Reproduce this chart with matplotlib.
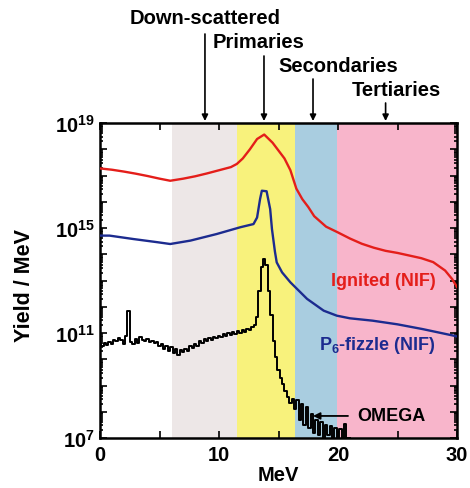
import matplotlib

matplotlib.use("Agg")

import numpy as np  # noqa: E402
import matplotlib.pyplot as plt  # noqa: E402
from matplotlib.ticker import FixedLocator, FuncFormatter, LogLocator, NullFormatter  # noqa: E402

plt.rcParams["font.family"] = ["Liberation Sans", "DejaVu Sans"]
plt.rcParams["font.weight"] = "bold"
plt.rcParams["mathtext.fontset"] = "custom"
plt.rcParams["mathtext.rm"] = "Liberation Sans:bold"
plt.rcParams["mathtext.bf"] = "Liberation Sans:bold"
plt.rcParams["mathtext.it"] = "Liberation Sans:bold"

# spectral regions (MeV)
bands = [(6.03, 11.49, "#ede7e7"), (11.49, 16.39, "#f8f27c"),
         (16.39, 19.89, "#a9cde0"), (19.89, 30.0, "#f8b5cb")]

# ignited NIF spectrum, log10(yield/MeV)
ignited_e = [0, 1, 2, 3, 4, 5, 5.9, 7, 8, 9, 10, 11, 11.5, 12, 12.6, 13.2, 13.8,
             14.5, 15.0, 15.5, 16.0, 16.5, 17.0, 17.5, 18, 19, 20, 21, 22, 23, 24,
             25, 26, 27, 28, 29, 29.6, 30]
ignited_log = [17.27, 17.22, 17.15, 17.07, 16.98, 16.88, 16.80, 16.88, 16.97, 17.08,
               17.2, 17.32, 17.44, 17.65, 18.0, 18.39, 18.56, 18.25, 17.95, 17.65,
               17.2, 16.5, 16.1, 15.8, 15.45, 15.05, 14.83, 14.6, 14.4, 14.25, 14.13,
               14.05, 13.95, 13.85, 13.7, 13.38, 13.05, 12.75]

# P6-fizzle NIF spectrum
fizzle_e = [0, 0.8, 2.8, 4.8, 5.9, 7.6, 9.8, 11.8, 12.9, 13.2, 13.45, 13.6, 14.0,
            14.3, 14.45, 14.7, 14.85, 15.3, 16.0, 17.4, 18.8, 19.9, 21.0, 22.9,
            25.0, 27.1, 29.7, 30.0]
fizzle_log = [14.71, 14.71, 14.58, 14.46, 14.39, 14.52, 14.77, 15.03, 15.15, 15.4,
              16.1, 16.42, 16.4, 15.72, 14.96, 14.1, 13.69, 13.31, 12.93, 12.3,
              11.85, 11.66, 11.56, 11.47, 11.33, 11.15, 10.9, 10.87]

# OMEGA measured spectrum, 0.2 MeV bins
omega_e = np.round(np.arange(0, 21.01, 0.2), 1)
omega_log = [10.6, 10.5, 10.62, 10.55, 10.66, 10.58, 10.75, 10.7, 10.82, 10.72,
             10.6, 10.9, 11.85, 10.65, 10.6, 10.78, 10.62, 10.85, 10.75, 10.7,
             10.76, 10.65, 10.7, 10.62, 10.66, 10.5, 10.6, 10.38, 10.52, 10.3,
             10.45, 10.25, 10.4, 10.15, 10.35, 10.28, 10.4, 10.32, 10.5, 10.42,
             10.58, 10.52, 10.7, 10.62, 10.78, 10.68, 10.8, 10.75, 10.86, 10.8,
             10.9, 10.84, 10.95, 10.88, 11.0, 10.92, 11.02, 10.98, 11.08, 11.0,
             11.1, 11.05, 11.15, 11.1, 11.22, 11.3, 11.6, 12.6, 13.5, 13.82,
             13.6, 12.6, 11.7, 10.7, 10.1, 9.6, 9.3, 9.05, 8.8, 8.55,
             8.35, 8.5, 8.1, 8.45, 7.7, 8.3, 7.5, 8.2, 7.4, 7.9,
             7.2, 7.7, 7.1, 7.6, 7.0, 7.5, 7.1, 7.45, 7.0, 7.4,
             7.0, 7.35, 7.0, 7.55, 7.0, 7.0]

# (label, arrow energy, text centre in px from top-left, arrow start/end y px)
regions = [("Down-scattered", 8.82, (205, 18), 35, 122),
           ("Primaries", 13.78, (259, 43), 57, 122),
           ("Secondaries", 17.9, (338, 67), 80, 122),
           ("Tertiaries", 24.0, (396, 90), 104, 122)]

W, H = 470, 489
fig = plt.figure(figsize=(W / 100, H / 100), dpi=100)
fig.patch.set_facecolor("white")
ax = fig.add_axes([100 / W, 1 - 439 / H, 357 / W, 315 / H])

for lo, hi, color in bands:
    ax.axvspan(lo, hi, color=color, lw=0, zorder=0)

ax.plot(ignited_e, 10 ** np.array(ignited_log), color="#e41e1a", lw=1.7, zorder=3)
ax.plot(fizzle_e, 10 ** np.array(fizzle_log), color="#1c2b8f", lw=1.7, zorder=3)
ax.plot(omega_e, 10 ** np.array(omega_log), color="black", lw=1.4,
        drawstyle="steps-mid", zorder=3)

ax.set_xlim(0, 30)
ax.set_yscale("log")
ax.set_ylim(1e7, 1e19)

ax.xaxis.set_major_locator(FixedLocator([0, 5, 10, 15, 20, 25, 30]))
ax.xaxis.set_major_formatter(FuncFormatter(lambda v, p: f"{v:.0f}" if v % 10 == 0 else ""))
ax.yaxis.set_major_locator(FixedLocator([10.0 ** k for k in range(7, 20)]))
ax.yaxis.set_major_formatter(FuncFormatter(
    lambda v, p: rf"$10^{{{round(np.log10(v))}}}$" if round(np.log10(v)) % 4 == 3 else ""))
ax.yaxis.set_minor_locator(LogLocator(base=10, subs=np.arange(2, 10), numticks=100))
ax.yaxis.set_minor_formatter(NullFormatter())
ax.tick_params(which="both", direction="in", top=True, right=True, width=1.2)
ax.tick_params(which="major", length=5)
ax.tick_params(which="minor", length=2.5)
ax.tick_params(axis="x", labelsize=14.5, pad=5)
ax.tick_params(axis="y", labelsize=14.5, pad=4)
for spine in ax.spines.values():
    spine.set_linewidth(1.8)

ax.set_xlabel("MeV", fontsize=14.5, fontweight="bold", labelpad=1)
fig.text(25 / W, 1 - 286 / H, "Yield / MeV", rotation=90, fontsize=15.5,
         fontweight="bold", ha="center", va="center")

ax.text(23.82, 10 ** 12.99, "Ignited (NIF)", color="#e41e1a", fontsize=13,
        fontweight="bold", ha="center", va="center", zorder=4)
ax.text(23.32, 10 ** 10.58, r"P$_{6}$-fizzle (NIF)", color="#1c2b8f", fontsize=13,
        fontweight="bold", ha="center", va="center", zorder=4)
ax.text(24.45, 10 ** 7.84, "OMEGA", color="black", fontsize=13,
        fontweight="bold", ha="center", va="center", zorder=4)
ax.annotate("", xy=(17.9, 10 ** 7.84), xytext=(20.84, 10 ** 7.84),
            arrowprops=dict(arrowstyle="-|>", color="black", lw=1.3,
                            mutation_scale=10, shrinkA=0, shrinkB=0), zorder=4)

for label, energy, (tx, ty), y0, y1 in regions:
    fig.text(tx / W, 1 - ty / H, label, fontsize=14.5, fontweight="bold",
             ha="center", va="center")
    ax.annotate("", xy=(energy, H - y1), xycoords=("data", "figure pixels"),
                xytext=(energy, H - y0), textcoords=("data", "figure pixels"),
                arrowprops=dict(arrowstyle="-|>", color="black", lw=1.2,
                                mutation_scale=9, shrinkA=0, shrinkB=0),
                annotation_clip=False)

fig.savefig("out.png", dpi=100)
plt.close(fig)
